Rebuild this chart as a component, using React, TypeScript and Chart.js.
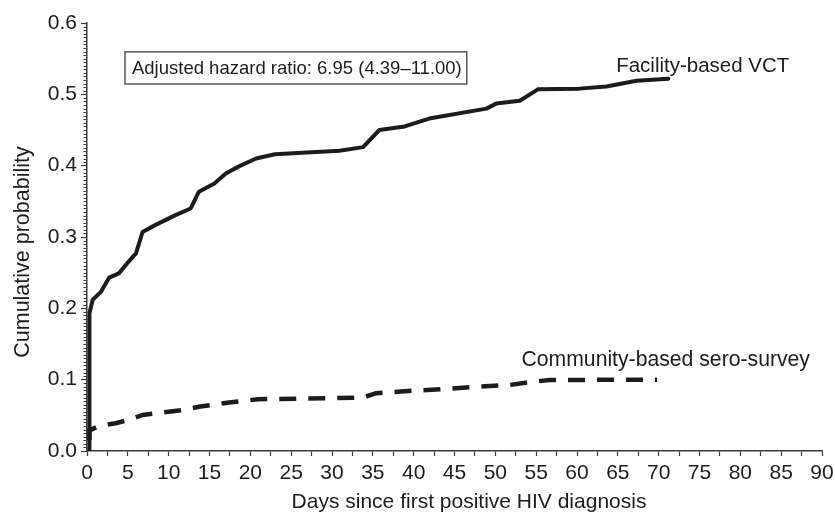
import React, { useEffect, useRef } from "react";
import { Chart, registerables } from "chart.js";

Chart.register(...registerables);

// ---- data ----
const facilityDays = [0.3, 0.3, 0.7, 1.7, 2.7, 3.9, 4.9, 6.0, 6.8, 8.4, 10.9, 12.7, 13.7, 15.6, 17.0, 18.6, 20.7, 23.0, 30.9, 33.8, 35.8, 38.9, 41.9, 48.9, 50.1, 53.0, 55.2, 60.3, 63.6, 67.3, 71.2];
const facilityProb = [0.0, 0.193, 0.212, 0.223, 0.243, 0.249, 0.263, 0.277, 0.307, 0.317, 0.331, 0.340, 0.3635, 0.375, 0.389, 0.399, 0.410, 0.416, 0.421, 0.426, 0.450, 0.455, 0.466, 0.480, 0.487, 0.491, 0.507, 0.508, 0.511, 0.519, 0.522];

const communityDays = [0.3, 0.3, 1.5, 3.5, 5.1, 6.8, 11.7, 13.7, 17.4, 20.9, 33.8, 35.4, 39.9, 43.2, 47.7, 51.7, 54.6, 56.6, 69.8];
const communityProb = [0.0, 0.029, 0.035, 0.039, 0.0435, 0.0505, 0.0575, 0.062, 0.068, 0.0725, 0.075, 0.081, 0.0845, 0.0865, 0.090, 0.0925, 0.097, 0.0995, 0.1];

const seriesNames = ["Facility-based VCT", "Community-based sero-survey"];
const boxText = "Adjusted hazard ratio: 6.95 (4.39\u201311.00)";
const xTitle = "Days since first positive HIV diagnosis";
const yTitle = "Cumulative probability";

const xMin = 0;
const xMax = 90;
const xMajorStep = 5;
const xMinorStep = 2.5;
const yMin = 0;
const yMax = 0.6;
const yMajorStep = 0.1;
const yMinorStep = 0.005;

const FONT = "'Liberation Sans', Arial, Helvetica, sans-serif";
const INK = "#1c1c1c";
const AXIS = "#3a3a3a";

const toPoints = (xs: number[], ys: number[]) => xs.map((x, i) => ({ x, y: ys[i] }));

const decorPlugin = {
  id: "decor",
  afterDraw(chart: any) {
    const { ctx, chartArea, scales } = chart;
    const xs = scales.x;
    const ys = scales.y;
    ctx.save();
    // minor y ticks
    ctx.strokeStyle = AXIS;
    ctx.lineWidth = 1;
    const n = Math.round((yMax - yMin) / yMinorStep);
    const per = Math.round(yMajorStep / yMinorStep);
    for (let i = 0; i <= n; i++) {
      if (i % per === 0) continue;
      const py = Math.round(ys.getPixelForValue(yMin + i * yMinorStep)) + 0.5;
      ctx.beginPath();
      ctx.moveTo(chartArea.left - 3.5, py);
      ctx.lineTo(chartArea.left, py);
      ctx.stroke();
    }

    // hazard-ratio box
    const bx0 = xs.getPixelForValue(4.65);
    const bx1 = xs.getPixelForValue(46.5);
    const by0 = ys.getPixelForValue(0.5595);
    const by1 = ys.getPixelForValue(0.5145);
    ctx.strokeStyle = "#555";
    ctx.lineWidth = 1.5;
    ctx.strokeRect(bx0, by0, bx1 - bx0, by1 - by0);
    ctx.fillStyle = INK;
    ctx.font = `18.5px ${FONT}`;
    ctx.textAlign = "left";
    ctx.textBaseline = "alphabetic";
    ctx.fillText(boxText, bx0 + 7, (by0 + by1) / 2 + 6.5);

    // series labels
    ctx.font = `20.5px ${FONT}`;
    ctx.fillText(seriesNames[0], xs.getPixelForValue(64.8), ys.getPixelForValue(0.5315));
    ctx.font = `21.2px ${FONT}`;
    ctx.fillText(seriesNames[1], xs.getPixelForValue(53.2), ys.getPixelForValue(0.1195));

    // axis titles
    ctx.font = `21px ${FONT}`;
    ctx.textAlign = "center";
    ctx.fillText(xTitle, 469, 508);
    ctx.font = `21.5px ${FONT}`;
    ctx.translate(28.5, 252);
    ctx.rotate(-Math.PI / 2);
    ctx.fillText(yTitle, 0, 0);
    ctx.restore();
  },
};

export default function App() {
  const ref = useRef<HTMLCanvasElement | null>(null);

  useEffect(() => {
    if (!ref.current) return;
    const chart = new Chart(ref.current, {
      type: "line",
      data: {
        datasets: [
          {
            label: seriesNames[0],
            data: toPoints(facilityDays, facilityProb),
            borderColor: INK,
            borderWidth: 4,
            pointRadius: 0,
            tension: 0,
            borderCapStyle: "round",
            borderJoinStyle: "round",
          },
          {
            label: seriesNames[1],
            data: toPoints(communityDays, communityProb),
            borderColor: INK,
            borderWidth: 4.5,
            borderDash: [17, 12],
            borderDashOffset: 18,
            pointRadius: 0,
            tension: 0,
          },
        ],
      },
      options: {
        animation: false,
        responsive: false,
        maintainAspectRatio: false,
        devicePixelRatio: 1,
        layout: { padding: { left: 0, top: 23, right: 13, bottom: 0 } },
        plugins: {
          legend: { display: false },
          tooltip: { enabled: false },
        },
        scales: {
          x: {
            type: "linear",
            min: xMin,
            max: xMax,
            afterFit: (s: any) => {
              s.height = 64;
              s.paddingLeft = 0;
              s.paddingRight = 0;
            },
            ticks: {
              stepSize: xMinorStep,
              autoSkip: false,
              maxRotation: 0,
              color: INK,
              padding: 5,
              font: { family: FONT, size: 21 },
              callback: (v: any) => {
                const n = Number(v);
                return Math.abs(n / xMajorStep - Math.round(n / xMajorStep)) < 1e-6 ? String(Math.round(n)) : "";
              },
            },
            grid: {
              display: true,
              drawOnChartArea: false,
              drawTicks: true,
              tickLength: 5,
              tickColor: AXIS,
              tickWidth: 1.2,
            },
            border: { display: true, color: AXIS, width: 1.5 },
          },
          y: {
            type: "linear",
            min: yMin,
            max: yMax,
            afterFit: (s: any) => {
              s.width = 87;
              s.paddingTop = 0;
              s.paddingBottom = 0;
            },
            ticks: {
              stepSize: yMajorStep,
              autoSkip: false,
              color: INK,
              padding: 4,
              font: { family: FONT, size: 21 },
              callback: (v: any) => Number(v).toFixed(1),
            },
            grid: {
              display: true,
              drawOnChartArea: false,
              drawTicks: true,
              tickLength: 6,
              tickColor: AXIS,
              tickWidth: 1.2,
            },
            border: { display: true, color: AXIS, width: 1.5 },
          },
        },
      },
      plugins: [decorPlugin],
    });
    return () => chart.destroy();
  }, []);

  return (
    <div style={{ position: "absolute", left: 0, top: 0, width: 835, height: 515, background: "#fff" }}>
      <canvas ref={ref} width={835} height={515} style={{ display: "block" }} />
    </div>
  );
}
